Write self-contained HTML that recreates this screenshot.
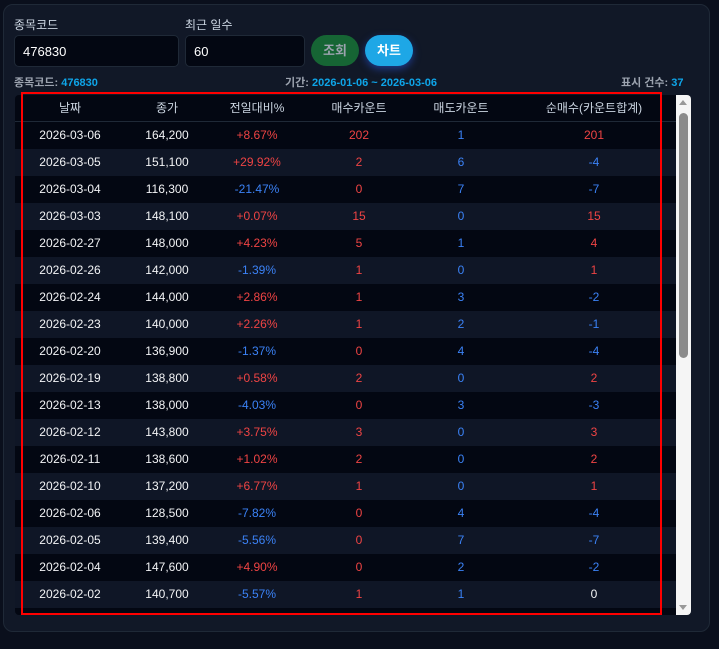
<!DOCTYPE html>
<html><head><meta charset="utf-8"><style>
*{margin:0;padding:0;box-sizing:border-box}
body{width:719px;height:649px;background:#0a0f1c;font-family:"Liberation Sans","Noto Sans CJK KR",sans-serif;position:relative;overflow:hidden;color:#e5e7eb}
.panel{position:absolute;left:3px;top:4px;width:707px;height:628px;background:#111827;border:1px solid #1f2937;border-radius:10px}
.lbl{position:absolute;font-size:12px;color:#cbd5e1}
.inp{position:absolute;top:35px;height:32px;background:#030712;border:1px solid #1f2937;border-radius:5px;font-size:13px;color:#fff;padding:8px 8px}
.btn{position:absolute;top:35px;height:31px;border-radius:16px;font-size:13px;font-weight:bold;text-align:center;line-height:31px}
.info{position:absolute;top:74px;font-size:11px;color:#9ca3af;font-weight:bold}
.info b{color:#0ea5e9}
.tbl{position:absolute;left:15px;top:95px;width:662px;height:520px;background:#030712;overflow:hidden;border-radius:4px 0 0 4px}
.row{position:absolute;left:0;width:662px;height:27px;font-size:12px}
.row span{position:absolute;top:0;line-height:27px;transform:translateX(-50%);white-space:nowrap}
.hd{top:0;color:#cbd5e1;border-bottom:1px solid #1f2937;height:27px}
.r{color:#ef4444}.bl{color:#3b82f6}.w{color:#f3f4f6}
.sb{position:absolute;left:676px;top:95px;width:15px;height:520px;background:#f5f5f5;border-radius:0 4px 4px 0}
.thumb{position:absolute;left:3px;top:18px;width:9px;height:245px;background:#8b8b8b;border-radius:5px}
.red{position:absolute;left:21px;top:92px;width:641px;height:523px;border:2px solid #f00}
</style></head><body>
<div class="panel"></div>
<div class="lbl" style="left:14px;top:16px">종목코드</div>
<div class="lbl" style="left:185px;top:16px">최근 일수</div>
<div class="inp" style="left:14px;width:165px">476830</div>
<div class="inp" style="left:185px;width:120px">60</div>
<div class="btn" style="left:311px;width:48px;background:#166534;color:#9ca3af">조회</div>
<div class="btn" style="left:365px;width:48px;background:#1ea7e6;color:#fff;box-shadow:0 3px 8px #1e3a8a">차트</div>
<div class="info" style="left:14px">종목코드: <b>476830</b></div>
<div class="info" style="left:285px">기간: <b>2026-01-06 ~ 2026-03-06</b></div>
<div class="info" style="left:621px">표시 건수: <b>37</b></div>
<div class="tbl" id="t">
<div class="row hd"><span style="left:55px">날짜</span><span style="left:152px">종가</span><span style="left:242px">전일대비%</span><span style="left:344px">매수카운트</span><span style="left:446px">매도카운트</span><span style="left:579px">순매수(카운트합계)</span></div>
</div>
<div class="sb"><div class="thumb"></div><div style="position:absolute;left:3px;top:5px;border:4px solid transparent;border-bottom:5px solid #999;border-top:0"></div><div style="position:absolute;left:3px;bottom:5px;border:4px solid transparent;border-top:5px solid #999;border-bottom:0"></div></div>
<div class="red"></div>
<script>
var d=[["2026-03-06","164,200","+8.67%","202","1","201"],["2026-03-05","151,100","+29.92%","2","6","-4"],["2026-03-04","116,300","-21.47%","0","7","-7"],["2026-03-03","148,100","+0.07%","15","0","15"],["2026-02-27","148,000","+4.23%","5","1","4"],["2026-02-26","142,000","-1.39%","1","0","1"],["2026-02-24","144,000","+2.86%","1","3","-2"],["2026-02-23","140,000","+2.26%","1","2","-1"],["2026-02-20","136,900","-1.37%","0","4","-4"],["2026-02-19","138,800","+0.58%","2","0","2"],["2026-02-13","138,000","-4.03%","0","3","-3"],["2026-02-12","143,800","+3.75%","3","0","3"],["2026-02-11","138,600","+1.02%","2","0","2"],["2026-02-10","137,200","+6.77%","1","0","1"],["2026-02-06","128,500","-7.82%","0","4","-4"],["2026-02-05","139,400","-5.56%","0","7","-7"],["2026-02-04","147,600","+4.90%","0","2","-2"],["2026-02-02","140,700","-5.57%","1","1","0"]];
var h="";d.forEach(function(r,i){var bg=i%2?"#0f1626":"#030712";var pc=r[2][0]=="+"?"r":"bl";var n=+r[5];var nc=n>0?"r":n<0?"bl":"w";
h+='<div class="row" style="top:'+(27+i*27)+'px;background:'+bg+'"><span class="w" style="left:55px">'+r[0]+'</span><span class="w" style="left:152px">'+r[1]+'</span><span class="'+pc+'" style="left:242px">'+r[2]+'</span><span class="r" style="left:344px">'+r[3]+'</span><span class="bl" style="left:446px">'+r[4]+'</span><span class="'+nc+'" style="left:579px">'+r[5]+'</span></div>';});
document.getElementById("t").insertAdjacentHTML("beforeend",h);
</script>
</body></html>
